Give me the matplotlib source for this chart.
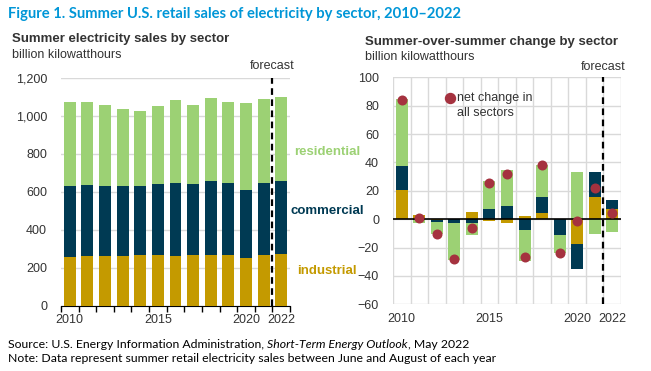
import matplotlib
matplotlib.use("Agg")
import matplotlib.pyplot as plt
import numpy as np

years = list(range(2010, 2023))
# left chart, billion kWh
industrial = [259, 262, 262, 262, 266, 266, 262, 266, 269, 269, 253, 266, 273]
commercial = [374, 375, 371, 368, 367, 374, 385, 376, 389, 378, 358, 378, 383]
residential = [440, 436, 426, 403, 391, 409, 435, 414, 433, 423, 457, 443, 440]

# right chart, summer-over-summer change
ind_chg = [20.5, 3.0, -0.7, 0.0, 5.0, -1.3, -2.4, 2.4, 4.5, 0.0, -17.2, 15.5, 7.5]
com_chg = [17.0, -0.5, -1.2, -2.6, -2.4, 7.0, 9.2, -7.8, 11.0, -11.1, -17.8, 17.7, 5.7]
res_chg = [47.0, -2.3, -8.9, -25.9, -8.7, 20.0, 25.2, -21.8, 22.4, -12.7, 33.2, -10.6, -9.2]
net_chg = [83.8, 0.5, -10.8, -28.2, -6.1, 25.2, 32.0, -26.5, 37.9, -23.8, -1.2, 22.1, 4.5]

tick_years = [2010, 2015, 2020, 2022]

c_ind = "#C49A00"
c_com = "#003A53"
c_res = "#9CD174"
c_dot = "#A5323F"
c_grid = "#D9D9D9"
c_text = "#333333"

W, H = 651, 371
plt.rcParams['font.family'] = ['Liberation Sans', 'DejaVu Sans']
fig = plt.figure(figsize=(W / 100, H / 100), dpi=100)


def rect(x0, x1, ytop, ybot):
    return [x0 / W, 1 - ybot / H, (x1 - x0) / W, (ybot - ytop) / H]


x = np.arange(len(years))
bw = 0.68
bounds = np.arange(-0.5, len(years), 1.0)
tick_pos = [years.index(y) for y in tick_years]

# ---- left chart
ax1 = fig.add_axes(rect(61, 290, 77.7, 306))
ind = np.array(industrial)
com = np.array(commercial)
res = np.array(residential)
ax1.bar(x, ind, bw, color=c_ind, zorder=3)
ax1.bar(x, com, bw, bottom=ind, color=c_com, zorder=3)
ax1.bar(x, res, bw, bottom=ind + com, color=c_res, zorder=3)
ax1.set_xlim(-0.5, len(years) - 0.5)
ax1.set_ylim(0, 1200)
ax1.set_yticks(range(0, 1201, 200))
ax1.set_yticklabels([f"{v:,}" for v in range(0, 1201, 200)])
ax1.yaxis.grid(True, color=c_grid, lw=1, zorder=0)
ax1.set_xticks(tick_pos)
ax1.set_xticklabels([str(y) for y in tick_years])
ax1.set_xticks(bounds, minor=True)
ax1.tick_params(axis='x', which='major', length=0, pad=6, labelsize=9, labelcolor=c_text)
ax1.tick_params(axis='x', which='minor', length=4, width=1, color='black', direction='out')
ax1.tick_params(axis='y', length=0, pad=10, labelsize=9, labelcolor=c_text)
for s in ['top', 'right', 'left']:
    ax1.spines[s].set_visible(False)
ax1.spines['bottom'].set_color('black')
ax1.plot([11.5, 11.5], [0, 1200], ls=(0, (3, 2)), color='black', lw=1.6, zorder=4, clip_on=False)
ax1.text(11.5, 1230, "forecast", ha='center', va='bottom', fontsize=9, color=c_text)

# ---- right chart
ax2 = fig.add_axes(rect(393, 621, 77.3, 304.3))
pos_base = np.zeros(len(years))
neg_base = np.zeros(len(years))
for vals, col in [(ind_chg, c_ind), (com_chg, c_com), (res_chg, c_res)]:
    v = np.array(vals)
    bottom = np.where(v >= 0, pos_base, neg_base)
    ax2.bar(x, v, bw, bottom=bottom, color=col, zorder=3)
    pos_base = pos_base + np.where(v >= 0, v, 0)
    neg_base = neg_base + np.where(v < 0, v, 0)
ax2.scatter(x, net_chg, s=52, color=c_dot, zorder=5, linewidths=0)
ax2.axhline(0, color='black', lw=1.2, zorder=4)
ax2.set_xlim(-0.5, len(years) - 0.5)
ax2.set_ylim(-60, 100)
ax2.set_yticks(range(-60, 101, 20))
ax2.set_xticks(tick_pos)
ax2.set_xticklabels([str(y) for y in tick_years])
ax2.set_xticks(bounds, minor=True)
ax2.yaxis.grid(True, color=c_grid, lw=1, zorder=0)
ax2.xaxis.grid(True, which='minor', color=c_grid, lw=1, zorder=0)
ax2.tick_params(axis='x', which='both', length=0, pad=6, labelsize=9, labelcolor=c_text)
ax2.tick_params(axis='y', length=0, pad=10, labelsize=9, labelcolor=c_text)
for s in ax2.spines.values():
    s.set_visible(False)
ax2.plot([11.5, 11.5], [-60, 100], ls=(0, (3, 2)), color='black', lw=1.6, zorder=4, clip_on=False)
ax2.text(11.5, 103, "forecast", ha='center', va='bottom', fontsize=9, color=c_text)

# legend for dots
fig.add_artist(plt.Line2D([450 / W], [1 - 98 / H], marker='o', markersize=7.2,
                          color=c_dot, lw=0, transform=fig.transFigure))
fig.text(457 / W, 1 - 98 / H, "net change in", ha='left', va='center',
         fontsize=9, color=c_text)
fig.text(457 / W, 1 - 113 / H, "all sectors", ha='left', va='center',
         fontsize=9, color=c_text)

# sector labels
fig.text(327 / W, 1 - 152 / H, "residential", ha='center', va='center',
         fontsize=9.5, fontweight='bold', color=c_res)
fig.text(327 / W, 1 - 211 / H, "commercial", ha='center', va='center',
         fontsize=9.5, fontweight='bold', color=c_com)
fig.text(327 / W, 1 - 271 / H, "industrial", ha='center', va='center',
         fontsize=9.5, fontweight='bold', color=c_ind)

# titles
fig.text(8 / W, 1 - 14 / H, "Figure 1. Summer U.S. retail sales of electricity by sector, 2010\u20132022",
         ha='left', va='center', fontsize=10.6, fontweight='bold', color="#0096D7", family=['Lato', 'DejaVu Sans'])
fig.text(12 / W, 1 - 39 / H, "Summer electricity sales by sector", ha='left', va='center',
         fontsize=9.5, fontweight='bold', color=c_text)
fig.text(12 / W, 1 - 55 / H, "billion kilowatthours", ha='left', va='center', fontsize=9, color=c_text)
fig.text(365 / W, 1 - 42 / H, "Summer-over-summer change by sector", ha='left', va='center',
         fontsize=9.5, fontweight='bold', color=c_text)
fig.text(365 / W, 1 - 57 / H, "billion kilowatthours", ha='left', va='center', fontsize=9, color=c_text)

# source and note, with italic report name
renderer = fig.canvas.get_renderer()
src_parts = [("Source: U.S. Energy Information Administration, ", 'normal'),
             ("Short-Term Energy Outlook", 'italic'),
             (", May 2022", 'normal')]
xpos = 8
for txt, style in src_parts:
    t = fig.text(xpos / W, 1 - 344 / H, txt, ha='left', va='center', fontsize=8.8,
                 style=style, color='black', family=['Lato', 'DejaVu Sans'])
    xpos += t.get_window_extent(renderer).width
fig.text(8 / W, 1 - 359 / H, "Note: Data represent summer retail electricity sales between June and August of each year",
         ha='left', va='center', fontsize=8.8, color='black', family=['Lato', 'DejaVu Sans'])

fig.savefig("out.png", dpi=100)
